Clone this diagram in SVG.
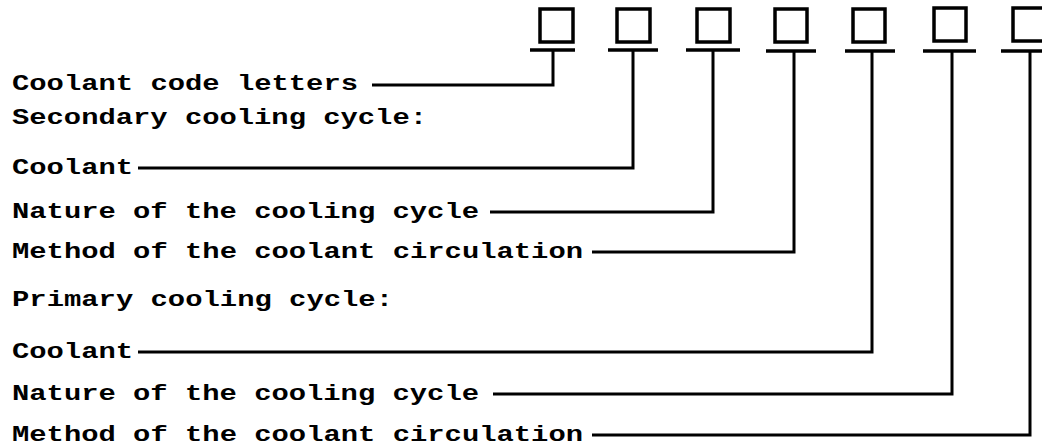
<svg xmlns="http://www.w3.org/2000/svg" width="1042" height="447" viewBox="0 0 1042 447">
<style>
.t{font-family:"Liberation Mono","DejaVu Sans Mono",monospace;font-size:22px;font-weight:bold;fill:#000}
.b{fill:none;stroke:#000;stroke-width:3.5}
.u{stroke:#000;stroke-width:3.5;fill:none}
.c{fill:none;stroke:#000;stroke-width:3}
</style>
<rect width="1042" height="447" fill="#fff"/>
<g id="box1"><rect class="b" x="540" y="9" width="33" height="33"/><line class="u" x1="530" y1="50" x2="575" y2="50"/></g>
<g id="box2"><rect class="b" x="617" y="9" width="33" height="33"/><line class="u" x1="608" y1="50" x2="658" y2="50"/></g>
<g id="box3"><rect class="b" x="697" y="9" width="33" height="33"/><line class="u" x1="686" y1="50" x2="740" y2="50"/></g>
<g id="box4"><rect class="b" x="775" y="9" width="32" height="33"/><line class="u" x1="766" y1="51" x2="816" y2="51"/></g>
<g id="box5"><rect class="b" x="853" y="9" width="32" height="33"/><line class="u" x1="845" y1="51" x2="895" y2="51"/></g>
<g id="box6"><rect class="b" x="934" y="8" width="32" height="33"/><line class="u" x1="923" y1="51" x2="976" y2="51"/></g>
<g id="box7"><rect class="b" x="1013" y="8" width="33" height="33"/><line class="u" x1="1001" y1="51" x2="1050" y2="51"/></g>
<g id="labels">
<text class="t" x="12" y="90" textLength="346" lengthAdjust="spacingAndGlyphs">Coolant code letters</text>
<text class="t" x="12" y="124" textLength="415" lengthAdjust="spacingAndGlyphs">Secondary cooling cycle:</text>
<text class="t" x="12" y="174" textLength="121" lengthAdjust="spacingAndGlyphs">Coolant</text>
<text class="t" x="12" y="218" textLength="467" lengthAdjust="spacingAndGlyphs">Nature of the cooling cycle</text>
<text class="t" x="12" y="258" textLength="571" lengthAdjust="spacingAndGlyphs">Method of the coolant circulation</text>
<text class="t" x="12" y="306" textLength="381" lengthAdjust="spacingAndGlyphs">Primary cooling cycle:</text>
<text class="t" x="12" y="358" textLength="121" lengthAdjust="spacingAndGlyphs">Coolant</text>
<text class="t" x="12" y="400" textLength="467" lengthAdjust="spacingAndGlyphs">Nature of the cooling cycle</text>
<text class="t" x="12" y="441" textLength="571" lengthAdjust="spacingAndGlyphs">Method of the coolant circulation</text>
</g>
<g id="connectors">
<polyline class="c" points="372,85 553,85 553,50"/>
<polyline class="c" points="138,168 633,168 633,50"/>
<polyline class="c" points="490,212 713,212 713,50"/>
<polyline class="c" points="592,252 794,252 794,51"/>
<polyline class="c" points="138,352 872,352 872,51"/>
<polyline class="c" points="493,394 952,394 952,51"/>
<polyline class="c" points="592,435 1030,435 1030,51"/>
</g>
</svg>
